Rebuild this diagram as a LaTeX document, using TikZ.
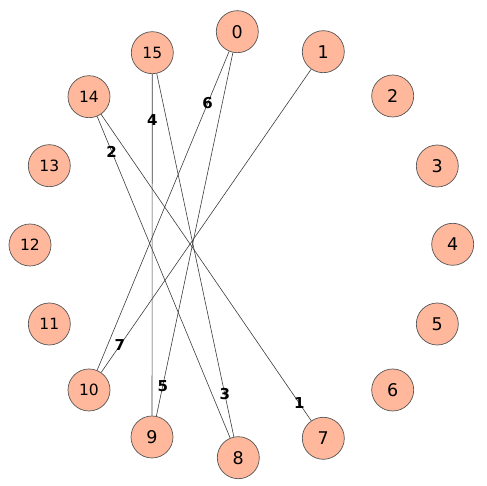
\documentclass[tikz,border=0pt]{standalone}
\usepackage{fontspec}
\setmainfont{DejaVu Sans}

\definecolor{nodefill}{RGB}{255,184,155}
\definecolor{nodeline}{RGB}{85,85,85}
\definecolor{edgeline}{RGB}{60,60,60}

\begin{document}
\begin{tikzpicture}[x=1pt,y=1pt,
    vertex/.style={circle,draw=nodeline,fill=nodefill,line width=0.7pt,
        minimum size=42pt,inner sep=0pt,font=\fontsize{17.5}{20}\selectfont},
    bigvertex/.style={vertex,font=\fontsize{15.5}{18}\selectfont},
    edge/.style={draw=edgeline,line width=0.6pt},
    elabel/.style={inner sep=0pt,font=\fontsize{15}{18}\selectfont\bfseries}]

% Page
\useasboundingbox (0,0) rectangle (487,486);

% Vertices
\foreach \i/\x/\y in {0/237.3/454.3, 1/323.3/434.3, 2/392.7/390, 3/437.3/320,
    4/452.7/241.7, 5/437.3/162, 6/392.7/96, 7/323.3/47.7, 8/238.3/28.3, 9/152/49}{
    \node[vertex] (v\i) at (\x,\y) {\i};
}

\foreach \i/\x/\y in {10/89/96, 11/49.3/162, 12/30/241, 13/49.3/320.3,
    14/89/389.3, 15/152.3/433.3}{
    \node[bigvertex] (v\i) at (\x,\y) {\i};
}

% Edges with weights
\foreach \a/\b/\w/\p in {14/7/1/0.943, 14/8/2/0.109, 15/8/3/0.883, 15/9/4/0.134,
    0/9/5/0.917, 0/10/6/0.163, 1/10/7/0.911}{
    \draw[edge] (v\a) -- (v\b) node[elabel,pos=\p] {\w};
}

\end{tikzpicture}
\end{document}
